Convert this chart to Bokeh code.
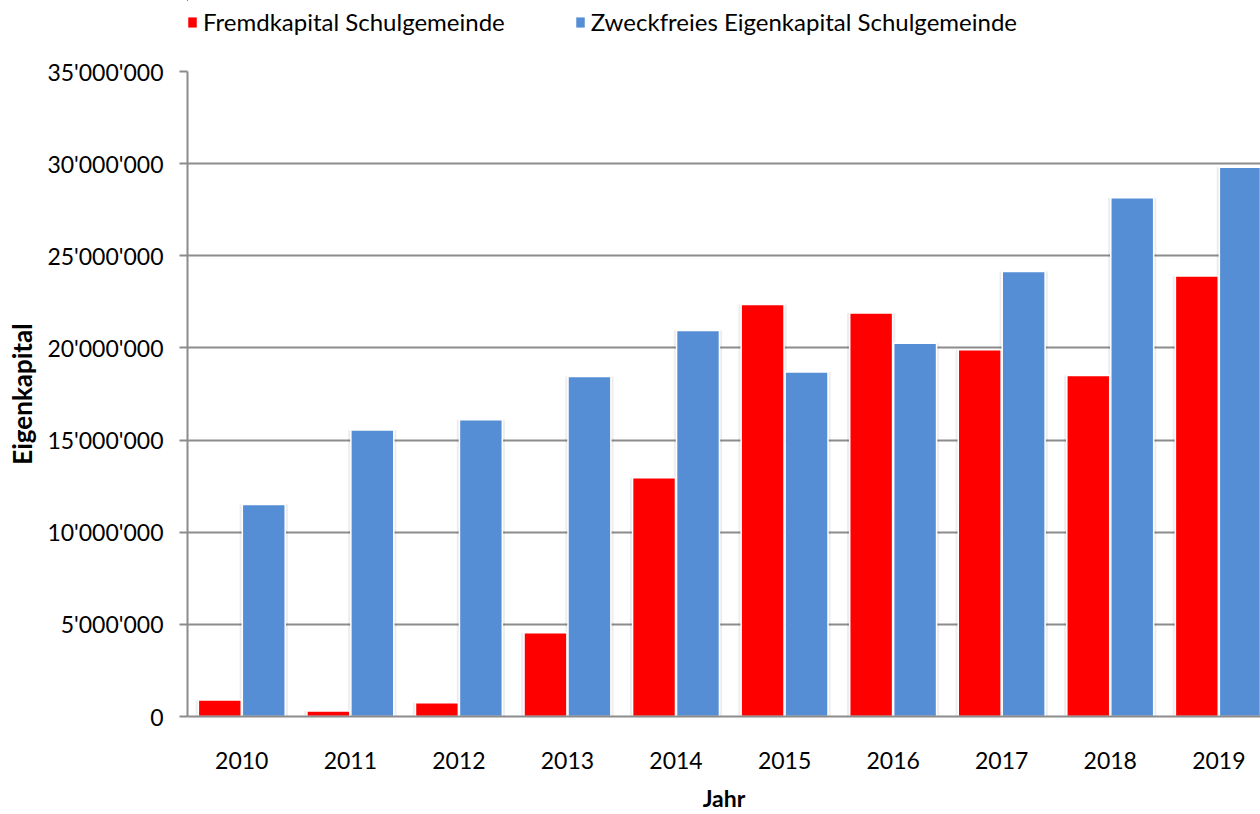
from bokeh.plotting import figure
from bokeh.layouts import column
from bokeh.models import Range1d, FixedTicker, Legend, LegendItem, ColumnDataSource
from bokeh.transform import dodge
from bokeh.embed import file_html
from bokeh.resources import INLINE

# ---- data ----
years = ["2010", "2011", "2012", "2013", "2014", "2015", "2016", "2017", "2018", "2019"]
fremdkapital = [900000, 300000, 750000, 4550000, 12950000, 22350000, 21900000, 19900000, 18500000, 23900000]
eigenkapital = [11500000, 15550000, 16100000, 18450000, 20950000, 18700000, 20250000, 24150000, 28150000, 29800000]
y_ticks = [0, 5000000, 10000000, 15000000, 20000000, 25000000, 30000000, 35000000]
y_tick_labels = ["0", "5'000'000", "10'000'000", "15'000'000", "20'000'000",
                 "25'000'000", "30'000'000", "35'000'000"]
series_names = ["Fremdkapital Schulgemeinde", "Zweckfreies Eigenkapital Schulgemeinde"]

RED = "#ff0000"
BLUE = "#558ed5"
GRID = "#8c8c8c"
FONT = "Lato"

centers = [i + 0.5 for i in range(len(years))]
src = ColumnDataSource(dict(x=centers, fremd=fremdkapital, eigen=eigenkapital))

bw = 0.395
off = 0.2025

# ---------------- main chart ----------------
p = figure(width=1260, height=764,
           x_range=Range1d(0, 9.884), y_range=Range1d(0, y_ticks[-1]),
           output_backend="svg", toolbar_location=None,
           min_border_left=187, min_border_right=0,
           min_border_top=21, min_border_bottom=98)
p.outline_line_color = None
p.background_fill_color = "white"

# soft shadows
p.vbar(x=dodge("x", -off, range=p.x_range), top="fremd", width=bw + 0.05, source=src,
       fill_color="#000000", fill_alpha=0.07, line_color=None)
p.vbar(x=dodge("x", off, range=p.x_range), top="eigen", width=bw + 0.05, source=src,
       fill_color="#000000", fill_alpha=0.07, line_color=None)

p.vbar(x=dodge("x", -off, range=p.x_range), top="fremd", width=bw, source=src,
       fill_color=RED, line_color="white", line_width=1.5)
p.vbar(x=dodge("x", off, range=p.x_range), top="eigen", width=bw, source=src,
       fill_color=BLUE, line_color="white", line_width=1.5)

p.yaxis.ticker = FixedTicker(ticks=y_ticks)
p.yaxis.major_label_overrides = {t: l for t, l in zip(y_ticks, y_tick_labels)}
p.xaxis.ticker = FixedTicker(ticks=centers)
p.xaxis.major_label_overrides = {c: y for c, y in zip(centers, years)}

for ax in (p.xaxis[0], p.yaxis[0]):
    ax.axis_line_color = GRID
    ax.axis_line_width = 2
    ax.major_label_text_font = FONT
    ax.major_label_text_font_size = "23px"
    ax.major_label_text_color = "black"
    ax.axis_label_text_font = FONT
    ax.axis_label_text_font_style = "bold"
    ax.axis_label_text_color = "black"
    ax.minor_tick_line_color = None

p.yaxis.major_tick_line_color = GRID
p.yaxis.major_tick_line_width = 2
p.yaxis.major_tick_out = 8
p.yaxis.major_tick_in = 0
p.yaxis.major_label_standoff = 16
p.yaxis.axis_label = "Eigenkapital"
p.yaxis.axis_label_text_font_size = "26px"
p.yaxis.axis_label_standoff = 6

p.xaxis.major_tick_line_color = None
p.xaxis.major_tick_out = 0
p.xaxis.major_tick_in = 0
p.xaxis.major_label_standoff = 35
p.xaxis.axis_label = "Jahr"
p.xaxis.axis_label_text_font_size = "23px"
p.xaxis.axis_label_standoff = 12

p.xgrid.grid_line_color = None
p.ygrid.grid_line_color = GRID
p.ygrid.grid_line_width = 2
p.ygrid.level = "underlay"

# ---------------- legend strip (frame aligns with the chart frame) ----------------
lg = figure(width=1260, height=50, x_range=Range1d(100, 101), y_range=Range1d(-2, -1),
            output_backend="svg", toolbar_location=None,
            x_axis_location=None, y_axis_location=None,
            min_border_left=0, min_border_right=0, min_border_top=0, min_border_bottom=0)
lg.outline_line_color = None
lg.grid.visible = False
l1 = lg.vbar(x="x", top="fremd", width=bw, source=src,
             fill_color=RED, line_color=RED, line_width=0.5)
l2 = lg.vbar(x="x", top="eigen", width=bw, source=src,
             fill_color=BLUE, line_color=BLUE, line_width=0.5)

legend = Legend(items=[LegendItem(label=series_names[0], renderers=[l1]),
                       LegendItem(label=series_names[1], renderers=[l2])],
                orientation="horizontal", location=(0, 14),
                glyph_width=10, glyph_height=12, label_standoff=6, spacing=70,
                padding=0, margin=0, border_line_color=None, background_fill_alpha=0,
                label_text_font=FONT, label_text_font_size="24px", label_text_color="black")
lg.add_layout(legend, "center")

layout = column(lg, p, spacing=0)
open("out.html", "w").write(file_html(layout, INLINE))
